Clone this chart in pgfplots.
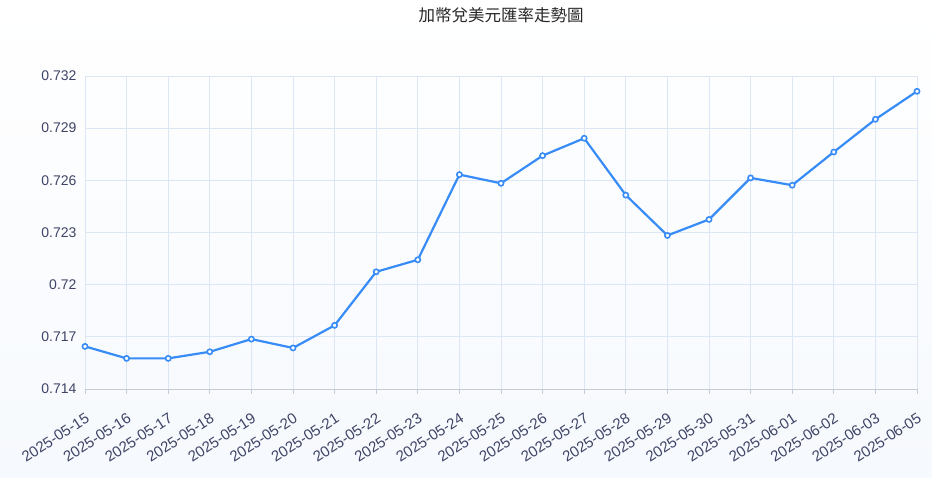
\documentclass[border=0pt]{standalone}
\usepackage{pgfplots}
\pgfplotsset{compat=1.18}
\usepackage{fontspec}
\setmainfont{Liberation Sans}
\newfontfamily\cjk{Noto Sans CJK TC}
\definecolor{linec}{RGB}{56,140,248}
\definecolor{gridc}{RGB}{220,230,245}
\definecolor{labc}{RGB}{62,68,102}
\definecolor{axisc}{RGB}{196,202,214}
\definecolor{bgbot}{RGB}{246,249,253}
\begin{document}
\begin{tikzpicture}[x=1pt,y=1pt]
\shade[top color=white,bottom color=bgbot] (0,0) rectangle (932,477);
\useasboundingbox (0,0) rectangle (932,477);
\node[font=\cjk\fontsize{16.5}{19}\selectfont,text=black!85] at (501,462) {加幣兌美元匯率走勢圖};
\begin{axis}[
  at={(85pt,88pt)}, anchor=south west,
  scale only axis, width=832pt, height=313pt,
  xmin=0, xmax=20, ymin=0.714, ymax=0.732,
  ytick={0.714,0.717,0.72,0.723,0.726,0.729,0.732},
  yticklabels={0.714,0.717,0.72,0.723,0.726,0.729,0.732},
  xtick={0,...,20},
  xticklabels={2025-05-15,2025-05-16,2025-05-17,2025-05-18,2025-05-19,2025-05-20,2025-05-21,2025-05-22,2025-05-23,2025-05-24,2025-05-25,2025-05-26,2025-05-27,2025-05-28,2025-05-29,2025-05-30,2025-05-31,2025-06-01,2025-06-02,2025-06-03,2025-06-05},
  x tick label style={rotate=33,anchor=north east,font=\fontsize{15}{17}\selectfont,text=labc,inner sep=1pt,yshift=-14pt,xshift=-9pt},
  y tick label style={font=\fontsize{14}{16}\selectfont,text=labc,xshift=-5pt},
  grid=major, major grid style={gridc,line width=0.8pt},
  axis line style={draw=none},
  axis x line*=bottom, axis y line*=left,
  x axis line style={draw=axisc,line width=1pt},
  xtick style={draw=axisc,line width=0.8pt},
  ytick style={draw=none},
  major tick length=5pt,
  xtick align=outside,
  scaled y ticks=false,
  clip=false,
  tick label style={/pgf/number format/assume math mode=true},
]
\draw[gridc,dashed,line width=0.8pt] (axis cs:0,0.732) -- (axis cs:20,0.732);
\draw[gridc,line width=0.8pt] (axis cs:20,0.714) -- (axis cs:20,0.732);
\addplot[linec,line width=2.2pt,mark=*,mark size=2.6pt,mark options={fill=white,draw=linec,line width=1.6pt}] coordinates {
(0,0.71645) (1,0.71576) (2,0.71576) (3,0.71614) (4,0.71687) (5,0.71636) (6,0.71766) (7,0.72074) (8,0.72143) (9,0.72633) (10,0.72583) (11,0.72742) (12,0.72842) (13,0.72515) (14,0.72283) (15,0.72375) (16,0.72614) (17,0.72572) (18,0.72763) (19,0.72951) (20,0.73112)
};
\end{axis}
\end{tikzpicture}
\end{document}
